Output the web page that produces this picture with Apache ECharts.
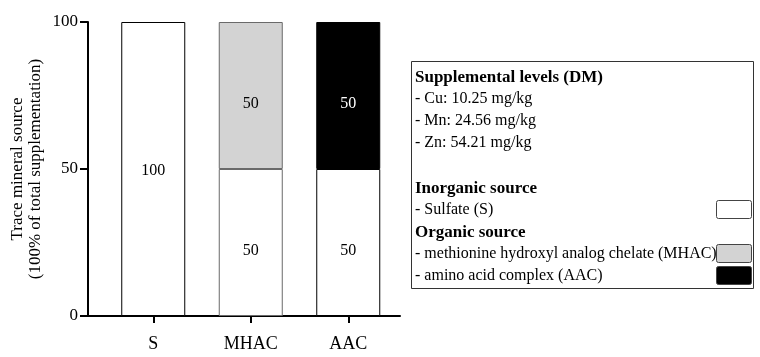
<!DOCTYPE html>
<html><head><meta charset="utf-8">
<script src="https://cdn.jsdelivr.net/npm/echarts@6/dist/echarts.min.js"></script>
<style>html,body{margin:0;padding:0;background:#fff}#c{width:760px;height:357px}</style>
</head><body><div id="c"></div>
<script>
var categories = ['S', 'MHAC', 'AAC'];
var sulfateValues = [100, 50, 50];
var mhacValues = [0, 50, 0];
var aacValues = [0, 0, 50];
var yTicks = [0, 50, 100];
var yTitle = 'Trace mineral source\n(100% of total supplementation)';
var infoLines = [
  {t: 'Supplemental levels (DM)', b: true},
  {t: '- Cu: 10.25 mg/kg'},
  {t: '- Mn: 24.56 mg/kg'},
  {t: '- Zn: 54.21 mg/kg'},
  {t: ''},
  {t: 'Inorganic source', b: true},
  {t: '- Sulfate (S)', sw: '#ffffff'},
  {t: 'Organic source', b: true},
  {t: '- methionine hydroxyl analog chelate (MHAC)', sw: '#d3d3d3'},
  {t: '- amino acid complex (AAC)', sw: '#000000'}
];

var FONT = '"Liberation Serif", serif';
var chart = echarts.init(document.getElementById('c'), null, {renderer: 'canvas'});

var borders = ['#000', '#6a6a6a', '#000'];
function toData(arr, border) {
  return arr.map(function (v, i) {
    if (!v) return '-';
    var d = {value: v};
    if (border) d.itemStyle = {borderColor: border[i]};
    d.label = {offset: [0, v < 100 ? 8 : 2]};
    return d;
  });
}

var lbl = function (color) {
  return {show: true, position: 'inside', color: color, fontFamily: FONT, fontSize: 16};
};

var graphics = [{
  type: 'rect', shape: {x: 411.5, y: 61.5, width: 342, height: 227},
  style: {fill: '#fff', stroke: '#333', lineWidth: 1}
}];
infoLines.forEach(function (ln, i) {
  var yy = 77 + i * 22;
  if (i >= 5) yy = 188 + (i - 5) * 22;
  if (ln.t) graphics.push({
    type: 'text', left: 415, top: yy - 8,
    style: {text: ln.t, fill: '#000', font: (ln.b ? 'bold 17px ' : '16px ') + FONT}
  });
  if (ln.sw) graphics.push({
    type: 'rect', shape: {x: 716.5, y: yy - 9.5, width: 35, height: 18, r: 2},
    style: {fill: ln.sw, stroke: '#444', lineWidth: 1}
  });
});

chart.setOption({
  animation: false,
  grid: [
    {left: 88, top: 22, width: 312, height: 294},
    {left: 104.5, top: 22, width: 292.5, height: 294}
  ],
  xAxis: [
    {type: 'value', gridIndex: 0, min: 0, max: 1, axisLine: {show: true, lineStyle: {color: '#000', width: 2}},
      axisTick: {show: false}, axisLabel: {show: false}, splitLine: {show: false}},
    {type: 'category', gridIndex: 1, data: categories,
      axisLine: {show: false},
      axisTick: {show: true, alignWithLabel: true, length: 7, lineStyle: {color: '#000', width: 2}},
      axisLabel: {color: '#000', fontFamily: FONT, fontSize: 18, margin: 19}}
  ],
  yAxis: [
    {type: 'value', gridIndex: 0, min: 0, max: 100, interval: 50,
      axisLine: {show: true, lineStyle: {color: '#000', width: 2}},
      axisTick: {show: true, length: 8, lineStyle: {color: '#000', width: 2}},
      axisLabel: {color: '#000', fontFamily: FONT, fontSize: 17, margin: 10},
      splitLine: {show: false},
      name: yTitle, nameLocation: 'middle', nameGap: 43,
      nameTextStyle: {color: '#000', fontFamily: FONT, fontSize: 17, lineHeight: 18}},
    {type: 'value', gridIndex: 1, min: 0, max: 100, show: false}
  ],
  series: [
    {type: 'bar', name: 'Sulfate', xAxisIndex: 1, yAxisIndex: 1, stack: 'a', barWidth: 64,
      data: toData(sulfateValues, borders),
      itemStyle: {color: '#fff', borderColor: '#000', borderWidth: 1}, label: lbl('#000')},
    {type: 'bar', name: 'MHAC', xAxisIndex: 1, yAxisIndex: 1, stack: 'a', barWidth: 64,
      data: toData(mhacValues),
      itemStyle: {color: '#d3d3d3', borderColor: '#6a6a6a', borderWidth: 1}, label: lbl('#000')},
    {type: 'bar', name: 'AAC', xAxisIndex: 1, yAxisIndex: 1, stack: 'a', barWidth: 64,
      data: toData(aacValues),
      itemStyle: {color: '#000', borderColor: '#000', borderWidth: 1}, label: lbl('#fff')}
  ],
  graphic: graphics
});
</script></body></html>
